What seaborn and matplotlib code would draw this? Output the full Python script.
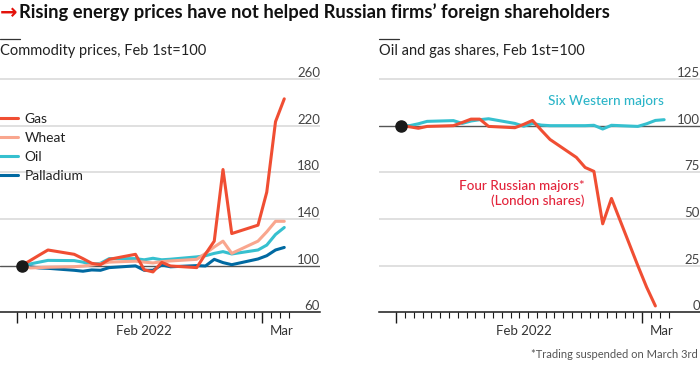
import pandas as pd
import matplotlib.pyplot as plt
from matplotlib.lines import Line2D
from matplotlib.transforms import blended_transform_factory
import seaborn as sns

# Dados (pregões de fev/mar 2022, Feb 1st=100)
dias = ['2022-02-01', '2022-02-02', '2022-02-03', '2022-02-04', '2022-02-07',
        '2022-02-08', '2022-02-09', '2022-02-10', '2022-02-11', '2022-02-14',
        '2022-02-15', '2022-02-16', '2022-02-17', '2022-02-18', '2022-02-21',
        '2022-02-22', '2022-02-23', '2022-02-24', '2022-02-25', '2022-02-28',
        '2022-03-01', '2022-03-02', '2022-03-03']

gas = [100, 104.5, 109, 113.4, 109.7, 106, 102, 100.8, 105.4, 109.7, 96.4,
       94.6, 102.8, 99.7, 98.3, 110, 121, 182.4, 127.5, 134.7, 163, 223.4, 243]
wheat = [100, 98, 98.3, 98.6, 99.1, 99.6, 100.5, 101.5, 103, 103.8, 103,
         102.3, 103.4, 104, 105.4, 110.5, 116, 121, 110.5, 121, 129, 138, 138]
oil = [100, 101.5, 103, 104.5, 104.3, 103, 101, 102, 106, 106, 105, 106.3,
       105, 105.5, 107.5, 108.5, 110.5, 112, 110, 113.4, 117.6, 126.7, 132.7]
palladium = [100, 99, 98, 97.7, 96, 95.2, 96.3, 96, 98.3, 99.8, 96, 96,
             100.6, 99, 100, 99.7, 105.4, 102.6, 100.8, 105.7, 108.5, 113.4,
             115.6]

western = [100, 100, 101, 102.3, 102.7, 101.2, 102.5, 103.2, 103.7, 101.2,
           99.7, 101.2, 100.3, 100, 100, 100, 100.2, 98.2, 100.2, 99.6, 101,
           102.8, 103.2]
# negociacao suspensa em 3 de marco
russian = [100, 99.4, 98.6, 99.6, 100, 101.7, 103.5, 103.5, 99.6, 98.9, 100.7,
           102.8, 97.6, 92.6, 83, 77.6, 75.5, 47.4, 61, 25, 13.5, 3.4]

yticks_esq = [60, 100, 140, 180, 220, 260]
yticks_dir = [0, 25, 50, 75, 100, 125]

cores = {'Gas': '#f04e33', 'Wheat': '#f9a68e', 'Oil': '#36c0cf',
         'Palladium': '#0069a1'}

datas = pd.to_datetime(dias) + pd.Timedelta(hours=12)

sns.set_theme(style='white')
plt.rcParams['font.family'] = ['Lato', 'DejaVu Sans']

fig = plt.figure(figsize=(7, 3.7), dpi=100)
ax1 = fig.add_axes([0.0, 0.156, 320 / 700, 0.633])
ax2 = fig.add_axes([379 / 700, 0.156, 321 / 700, 0.633])

xlim = (pd.Timestamp('2022-01-30 00:30'), pd.Timestamp('2022-03-07 14:00'))


def estilo_eixo(ax, yticks, base):
    ax.set_xlim(*xlim)
    ax.set_ylim(yticks[0], yticks[-1] + (yticks[1] - yticks[0]) * 0.02)
    for s in ['top', 'left', 'right']:
        ax.spines[s].set_visible(False)
    ax.spines['bottom'].set_color('#1a1a1a')
    ax.spines['bottom'].set_linewidth(1.1)
    ax.set_yticks([])
    ax.set_xlabel('')
    ax.set_ylabel('')
    for v in yticks[1:]:
        cor = '#555555' if v == base else '#dddddd'
        lw = 1.0 if v == base else 1.3
        ax.axhline(v, color=cor, lw=lw, zorder=0.5)
    trans = blended_transform_factory(ax.transAxes, ax.transData)
    for v in yticks:
        ax.text(1.0, v, str(v), transform=trans, ha='right', va='bottom',
                fontsize=9.5, color='#444444')
    # ticks diarios
    ax.set_xticks(pd.date_range('2022-02-01', '2022-03-04', freq='D'),
                  minor=True)
    ax.set_xticks([pd.Timestamp('2022-02-01'), pd.Timestamp('2022-03-01')])
    ax.set_xticklabels([])
    ax.tick_params(axis='x', which='major', direction='out', length=8,
                   width=1, color='#1a1a1a', bottom=True)
    ax.tick_params(axis='x', which='minor', direction='out', length=4,
                   width=0.8, color='#1a1a1a', bottom=True)
    trans_x = blended_transform_factory(ax.transData, ax.transAxes)
    ax.text(pd.Timestamp('2022-02-15 12:00'), -0.055, 'Feb 2022',
            transform=trans_x, ha='center', va='top', fontsize=9.5,
            color='#333333')
    ax.text(pd.Timestamp('2022-03-03 06:00'), -0.055, 'Mar',
            transform=trans_x, ha='center', va='top', fontsize=9.5,
            color='#333333')
    ax.plot(datas[0], base, 'o', color='#1a1a1a', ms=8, zorder=5)


# painel esquerdo
series = {'Gas': gas, 'Wheat': wheat, 'Oil': oil, 'Palladium': palladium}
for nome in ['Palladium', 'Oil', 'Wheat', 'Gas']:
    sns.lineplot(x=datas, y=series[nome], ax=ax1, color=cores[nome], lw=2.2,
                 label=nome)
estilo_eixo(ax1, yticks_esq, 100)
handles, labels = ax1.get_legend_handles_labels()
ordem = [labels.index(n) for n in ['Gas', 'Wheat', 'Oil', 'Palladium']]
ax1.legend([handles[i] for i in ordem], [labels[i] for i in ordem],
           loc='upper left', bbox_to_anchor=(-0.005, 0.85), frameon=False,
           borderaxespad=0, borderpad=0, handlelength=1.4, handletextpad=0.5,
           labelspacing=0.5, fontsize=10, labelcolor='#222222')

# painel direito
sns.lineplot(x=datas, y=western, ax=ax2, color='#36c0cf', lw=2.2)
sns.lineplot(x=datas[:len(russian)], y=russian, ax=ax2, color='#f04e33',
             lw=2.2)
estilo_eixo(ax2, yticks_dir, 100)
ax2.text(pd.Timestamp('2022-03-03 11:00'), 113, 'Six Western majors',
         ha='right', va='center', fontsize=9.7, color='#2bb5c8',
         fontweight='medium')
ax2.text(pd.Timestamp('2022-02-22 10:00'), 63.5,
         'Four Russian majors*\n(London shares)', ha='right', va='center',
         fontsize=9.7, color='#e3243b', linespacing=1.25,
         multialignment='right', fontweight='medium')

# titulos
fig.text(0.0, 0.966, '→', color='#e3120b', fontsize=15,
         fontweight='bold', va='center', family=['DejaVu Sans'])
fig.text(0.027, 0.966,
         'Rising energy prices have not helped Russian firms’ foreign shareholders',
         fontsize=13.2, fontweight='bold', va='center', color='#111111')
for x0, txt in [(0.0, 'Commodity prices, Feb 1st=100'),
                (379 / 700, 'Oil and gas shares, Feb 1st=100')]:
    fig.add_artist(Line2D([x0, x0 + 20 / 700], [1 - 39 / 370] * 2,
                          color='#333333', lw=0.9))
    fig.text(x0, 1 - 51 / 370, txt, fontsize=10.5, va='center',
             color='#222222')
fig.text(0.997, 1 - 355 / 370, '*Trading suspended on March 3rd',
         ha='right', va='center', fontsize=8, color='#555555')

plt.savefig('out.png', dpi=100)
